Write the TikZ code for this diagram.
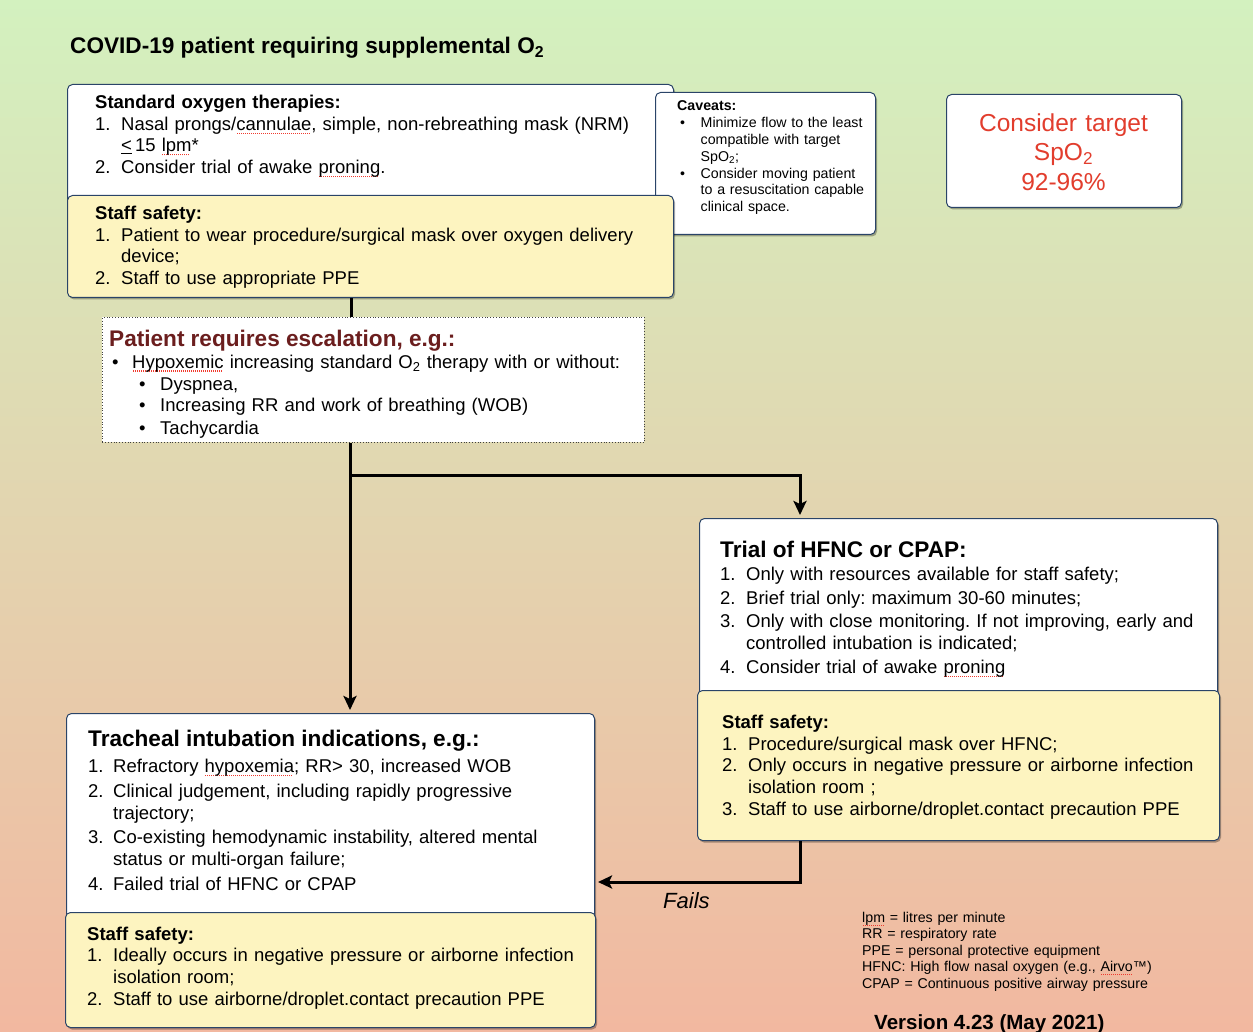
\documentclass[tikz,border=0pt]{standalone}
\usepackage{fontspec}
\setmainfont{Liberation Sans}
\usetikzlibrary{shadows,arrows.meta,calc}
\definecolor{navy}{HTML}{2A4468}
\definecolor{yel}{HTML}{FDF4C0}
\definecolor{tred}{HTML}{E23D2D}
\definecolor{dred}{HTML}{6B1E1E}
\definecolor{spred}{HTML}{F03A2E}
\definecolor{bgtop}{HTML}{D3F1BF}
\definecolor{bgmid}{HTML}{E3D4AA}
\definecolor{bgbot}{HTML}{F2B8A0}
\frenchspacing
\newcommand\li[3][26pt]{\par\hangindent=#1\hangafter=1\noindent\makebox[#1][l]{#2}#3}
\newcommand\bl[4]{\par\hangindent=\dimexpr#1+#2\relax\hangafter=1\noindent\hspace*{#1}\makebox[#2][l]{#3}#4}
\newcommand\ttwo{\textsubscript{2}}
\newcommand\fs[2]{\fontsize{#1}{#2}\selectfont}
\newcommand\spl[1]{\setbox0=\hbox{#1}\rlap{\raisebox{-3.5pt}[0pt][0pt]{\color{spred}\leaders\hbox to 2pt{\hss\rule{1pt}{1pt}\hss}\hskip\wd0}}#1}
\begin{document}
\begin{tikzpicture}[x=1pt,y=-1pt,
  box/.style={draw=navy,line width=1pt,rounded corners=5pt,anchor=north west,inner sep=0pt,
    drop shadow={shadow xshift=1.5pt,shadow yshift=-2pt,opacity=0.3,fill=black}},
  wbox/.style={box,fill=white},
  ybox/.style={box,fill=yel},
  txt/.style={anchor=base west,inner sep=0pt,text width=580pt,align=left},
  arr/.style={line width=3pt,shorten >=3pt,-{Stealth[length=14pt,width=13pt,inset=3pt]}},
  ln/.style={line width=3pt},
  ]
\useasboundingbox (0,0) rectangle (1253,1032);
\shade[top color=bgtop,middle color=bgmid,bottom color=bgbot] (0,0) rectangle (1253,1032);

% boxes
\node[wbox,minimum width=606pt,minimum height=126pt] (b1) at (67,84) {};
\node[wbox,minimum width=220pt,minimum height=142pt] (cav) at (655,92) {};
\node[ybox,minimum width=606pt,minimum height=102pt] (y1) at (67,195) {};
\node[wbox,minimum width=235pt,minimum height=113pt] (tgt) at (946,94) {};
\node[draw=black!75,dotted,line width=0.8pt,fill=white,anchor=north west,inner sep=0pt,minimum width=542pt,minimum height=125pt] (esc) at (102,317) {};
\node[wbox,minimum width=518pt,minimum height=182pt] (hf) at (699,518) {};
\node[ybox,minimum width=522pt,minimum height=150pt] (hy) at (697,690) {};
\node[wbox,minimum width=528pt,minimum height=207pt] (tr) at (66,713) {};
\node[ybox,minimum width=530pt,minimum height=115pt] (ty) at (65,912) {};

% connectors
\coordinate (xa) at (351,0);
\coordinate (xb) at (350,475);
\coordinate (xc) at (800,475);
\coordinate (xd) at (800,882);
\draw[ln] (y1.south -| xa) -- (esc.north -| xa);
\draw[arr] (esc.south -| xb) -- (tr.north -| xb);
\draw[arr] (xb) -- (xc) -- (hf.north -| xc);
\draw[arr] (hy.south -| xd) -- (xd) -- (tr.east |- xd);

% texts
\node[anchor=base west,inner sep=0pt,font={\fs{22.6}{22}\bfseries}] (t0) at (70,54) {COVID-19 patient requiring supplemental O\ttwo};

\node[txt,font={\fs{18.5}{21.7}}] (t1) at (95,108.5) {\textbf{Standard oxygen therapies:}
\li{1.}{Nasal prongs/\spl{cannulae}, simple, non-rebreathing mask (NRM)\newline \underline{<}\,15 \spl{lpm}*}
\li{2.}{Consider trial of awake \spl{proning}.}\par};

\node[txt,text width=200pt,font={\fs{14.2}{16.8}}] (t3) at (677,111) {\textbf{Caveats:}
\bl{3pt}{20.5pt}{•}{Minimize flow to the least\newline compatible with target\newline SpO\ttwo;}
\bl{3pt}{20.5pt}{•}{Consider moving patient\newline to a resuscitation capable\newline clinical space.}\par};

\node[txt,font={\fs{18.5}{21.7}}] (t2) at (95,219.5) {\textbf{Staff safety:}
\li{1.}{Patient to wear procedure/surgical mask over oxygen delivery\newline device;}
\li{2.}{Staff to use appropriate PPE}\par};

\node[anchor=base,inner sep=0pt,text width=230pt,align=center,text=tred,font={\fs{24.5}{29.5}}] (t4) at (1063.5,131.5) {Consider target\\SpO\ttwo\\92-96\%};

\node[txt,font={\fs{18.5}{22}}] (t5) at (109,346) {{\fs{22.6}{22}\bfseries\color{dred}Patient requires escalation, e.g.:\par}
\bl{3pt}{20pt}{•}{\spl{Hypoxemic} increasing standard O\ttwo{} therapy with or without:}
\bl{30pt}{21pt}{•}{Dyspnea,}
\bl{30pt}{21pt}{•}{Increasing RR and work of breathing (WOB)}
\bl{30pt}{21pt}{•}{Tachycardia}\par};

\node[txt,font={\fs{18.5}{22}}] (t6) at (720,557) {\setlength{\parskip}{1.5pt}{\fs{22.6}{22}\bfseries Trial of HFNC or CPAP:\par}
\li{1.}{Only with resources available for staff safety;}
\li{2.}{Brief trial only: maximum 30-60 minutes;}
\li{3.}{Only with close monitoring. If not improving, early and\newline controlled intubation is indicated;}
\li{4.}{Consider trial of awake \spl{proning}}\par};

\node[txt,font={\fs{18.5}{21.7}}] (t7) at (722,728.5) {\textbf{Staff safety:}
\li{1.}{Procedure/surgical mask over HFNC;}
\li{2.}{Only occurs in negative pressure or airborne infection\newline isolation room ;}
\li{3.}{Staff to use airborne/droplet.contact precaution PPE}\par};

\node[txt,font={\fs{18.5}{22}}] (t8) at (88,746) {\setlength{\parskip}{2.5pt}{\fs{22.6}{22}\bfseries Tracheal intubation indications, e.g.:\par}\vspace{2pt}
\li[25pt]{1.}{Refractory \spl{hypoxemia}; RR> 30, increased WOB}
\li[25pt]{2.}{Clinical judgement, including rapidly progressive\newline trajectory;}
\li[25pt]{3.}{Co-existing hemodynamic instability, altered mental\newline status or multi-organ failure;}
\li[25pt]{4.}{Failed trial of HFNC or CPAP}\par};

\node[txt,font={\fs{18.5}{21.7}}] (t9) at (87,940) {\textbf{Staff safety:}
\li{1.}{Ideally occurs in negative pressure or airborne infection\newline isolation room;}
\li{2.}{Staff to use airborne/droplet.contact precaution PPE}\par};

\node[anchor=base west,inner sep=0pt,font={\fs{22}{22}\itshape}] (t12) at (663,908) {Fails};

\node[txt,text width=320pt,font={\fs{14.2}{16.5}}] (t10) at (862,922) {\spl{lpm} = litres per minute\\RR = respiratory rate\\PPE = personal protective equipment\\HFNC: High flow nasal oxygen (e.g., \spl{Airvo}™)\\CPAP = Continuous positive airway pressure};

\node[anchor=base west,inner sep=0pt,font={\fs{20.5}{20.5}\bfseries}] (t11) at (874,1029) {Version 4.23 (May 2021)};
\end{tikzpicture}
\end{document}
